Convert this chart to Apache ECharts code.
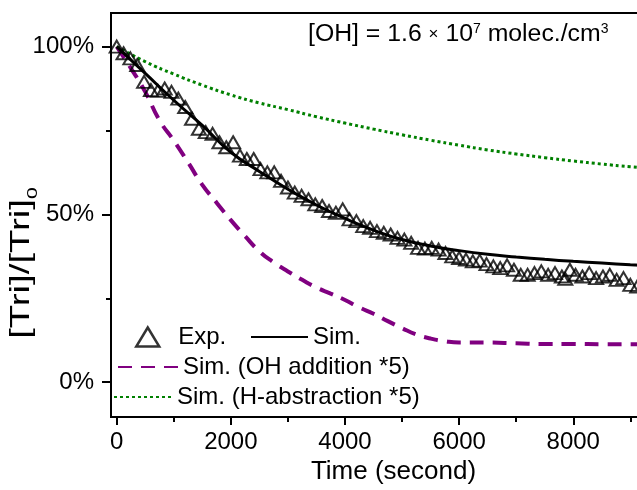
<!DOCTYPE html>
<html><head><meta charset="utf-8">
<script src="https://cdn.jsdelivr.net/npm/echarts@6/dist/echarts.min.js"></script>
<style>html,body{margin:0;padding:0;background:#fff;overflow:hidden;width:637px;height:490px}#c{width:680px;height:490px}</style>
</head><body><div id="c"></div>
<script>
// ---- data (percent of initial concentration) ----
const expTime = [0,120,240,360,480,600,720,840,960,1080,1200,1320,1440,1560,1680,1800,1920,2040,2160,2280,2400,2520,2640,2760,2880,3000,3120,3240,3360,3480,3600,3720,3840,3960,4080,4200,4320,4440,4560,4680,4800,4920,5040,5160,5280,5400,5520,5640,5760,5880,6000,6120,6240,6360,6480,6600,6720,6840,6960,7080,7200,7320,7440,7560,7680,7800,7860,7940,8040,8160,8280,8400,8520,8640,8760,8880,9000,9120];
const expValue = [100,98,96.5,94.5,89.5,87,86.8,87.5,86.5,84.5,82,78.5,75.5,74.5,74,71.5,70,71.5,67.5,66.5,66.5,63.5,62.5,62.5,60,58,56.5,55.5,54.5,53,52.5,51,50.5,51.5,48.5,48,46.5,46,45,44.5,44,43,42.5,41.5,40,39.8,40,39.5,38.5,37.5,37,36.5,36,36.2,35.2,34.5,34,34.8,33.5,32,32,32.5,33,32,32.5,31.5,30.8,33.5,32,31.5,32.5,31,31.5,32,30.5,31,29,28.5];

const simTime = [0,500,1000,1500,2000,2500,3000,3500,4000,4500,5000,5500,6000,6500,7000,7500,8000,8500,9000,9500,9800];
const simValue = [100,92,84,76.5,68.5,62.8,57.5,52.8,48.8,45.3,42.5,40.6,39.2,38.1,37.3,36.6,36.0,35.5,35.0,34.6,34.4];

const ohTime = [0,250,500,750,1000,1250,1500,1750,2000,2250,2500,2750,3000,3250,3500,3750,4000,4250,4500,4750,5000,5250,5500,5750,6000,6500,7000,7500,8000,8500,9000,9500,9800];
const ohValue = [100,93.5,86.5,78,72,65.5,58.8,53.5,48.3,43.5,39,35.7,33,30.5,28.2,26.4,24.5,22.3,20.4,18.2,16.1,14.2,13,12.2,11.8,11.8,11.6,11.4,11.4,11.3,11.3,11.3,11.3];

const hTime = [0,500,1000,1500,2000,2500,3000,3500,4000,4500,5000,5500,6000,6500,7000,7500,8000,8500,9000,9500,9800];
const hValue = [100,95.5,91.8,88.5,85.6,83.2,81.2,79.1,77.2,75.4,73.7,72.1,70.6,69.2,68.0,66.9,65.9,65.0,64.2,63.5,63.0];

const xTickLabels = [0,2000,4000,6000,8000];
const xMinorTicks = [1000,3000,5000,7000,9000];
const yTickLabels = [0,50,100];
const yMinorTicks = [25,75];

const zip = (a,b) => a.map((v,i)=>[v,b[i]]);
const FONT = "'Liberation Sans', Arial, sans-serif";
const legendText = {color:'#000', fontSize:24, fontFamily:FONT, lineHeight:26};
const hideSym = {opacity:0};

const chart = echarts.init(document.getElementById('c'), null, {renderer:'canvas'});
const xBase = {type:'value', min:-100, max:9800, gridIndex:0, splitLine:{show:false}};
const yBase = {type:'value', min:-10.4, max:110, gridIndex:0, splitLine:{show:false}};
chart.setOption({
  animation:false,
  backgroundColor:'#fff',
  grid:{left:111, width:565, top:13, height:407, show:true, borderColor:'#000', borderWidth:2, backgroundColor:'transparent'},
  xAxis:[
    Object.assign({}, xBase, {
      position:'bottom',
      axisLine:{show:true, onZero:false, lineStyle:{color:'#000', width:2}},
      axisTick:{show:true, inside:false, length:8, customValues:xTickLabels, lineStyle:{color:'#000', width:2}},
      axisLabel:{show:true, customValues:xTickLabels, margin:13, color:'#000', fontSize:24, fontFamily:FONT,
        formatter:v=>String(v)},
      name:'Time (second)', nameLocation:'middle', nameGap:41,
      nameTextStyle:{color:'#000', fontSize:26, fontFamily:FONT}
    }),
    Object.assign({}, xBase, {
      position:'bottom',
      axisLine:{show:false, onZero:false},
      axisTick:{show:true, inside:false, length:5, customValues:xMinorTicks, lineStyle:{color:'#000', width:2}},
      axisLabel:{show:false}
    })
  ],
  yAxis:[
    Object.assign({}, yBase, {
      position:'left',
      axisLine:{show:true, onZero:false, lineStyle:{color:'#000', width:2}},
      axisTick:{show:true, inside:false, length:9, customValues:yTickLabels, lineStyle:{color:'#000', width:2}},
      axisLabel:{show:true, customValues:yTickLabels, margin:17, color:'#000', fontSize:24, fontFamily:FONT,
        formatter:v=>v+'%'}
    }),
    Object.assign({}, yBase, {
      position:'left',
      axisLine:{show:false, onZero:false},
      axisTick:{show:true, inside:false, length:5, customValues:yMinorTicks, lineStyle:{color:'#000', width:2}},
      axisLabel:{show:false}
    })
  ],
  legend:[
    {data:[{name:'Exp.', icon:'triangle', itemStyle:{borderWidth:2.5}}], left:135, top:324, padding:0,
     itemWidth:23, itemHeight:19, textStyle:Object.assign({padding:[0,0,0,14]}, legendText)},
    {data:[{name:'Sim.', itemStyle:hideSym}], left:250, top:324, padding:0, itemWidth:57, itemHeight:19,
     textStyle:legendText},
    {data:[{name:'Sim. (OH addition *5)', itemStyle:hideSym}], left:117, top:354, padding:0, itemWidth:60, itemHeight:19,
     textStyle:legendText},
    {data:[{name:'Sim. (H-abstraction *5)', itemStyle:hideSym}], left:113, top:384, padding:0, itemWidth:58, itemHeight:19,
     textStyle:legendText}
  ],
  graphic:[
    {type:'text', x:308, y:22, style:{
      text:'[OH] = 1.6 {x|×} 10{sup|7} molec./cm{sup|3}',
      font:'24.8px ' + FONT, fill:'#000', textVerticalAlign:'top',
      rich:{sup:{fontSize:14, verticalAlign:'top', fontFamily:FONT, fill:'#000'}, x:{fontSize:17, fontFamily:FONT, fill:'#000'}}
    }},
    {type:'text', x:22, y:263, rotation:Math.PI/2, scaleX:1.42, style:{
      text:'[Tri]/[Tri]{sub|0}', font:'27px ' + FONT, fill:'#000', textAlign:'center', textVerticalAlign:'middle',
      rich:{sub:{fontSize:15, verticalAlign:'bottom', lineHeight:36, fontFamily:FONT, fill:'#000'}}
    }}
  ],
  series:[
    {name:'Exp.', type:'scatter', data:zip(expTime, expValue), symbol:'triangle', symbolSize:[14,12],
     itemStyle:{color:'rgba(0,0,0,0)', borderColor:'#000', borderWidth:2}, z:3},
    {name:'Sim.', type:'line', data:zip(simTime, simValue), symbol:'none', smooth:true,
     lineStyle:{color:'#000', width:3}, itemStyle:{color:'#000'}, z:4},
    {name:'Sim. (OH addition *5)', type:'line', data:zip(ohTime, ohValue), symbol:'none', smooth:true,
     lineStyle:{color:'#800080', width:4, type:[14,9]}, itemStyle:{color:'#800080'}, z:2},
    {name:'Sim. (H-abstraction *5)', type:'line', data:zip(hTime, hValue), symbol:'none', smooth:true,
     lineStyle:{color:'#008000', width:3, type:[3,3]}, itemStyle:{color:'#008000'}, z:2}
  ]
});
</script></body></html>
